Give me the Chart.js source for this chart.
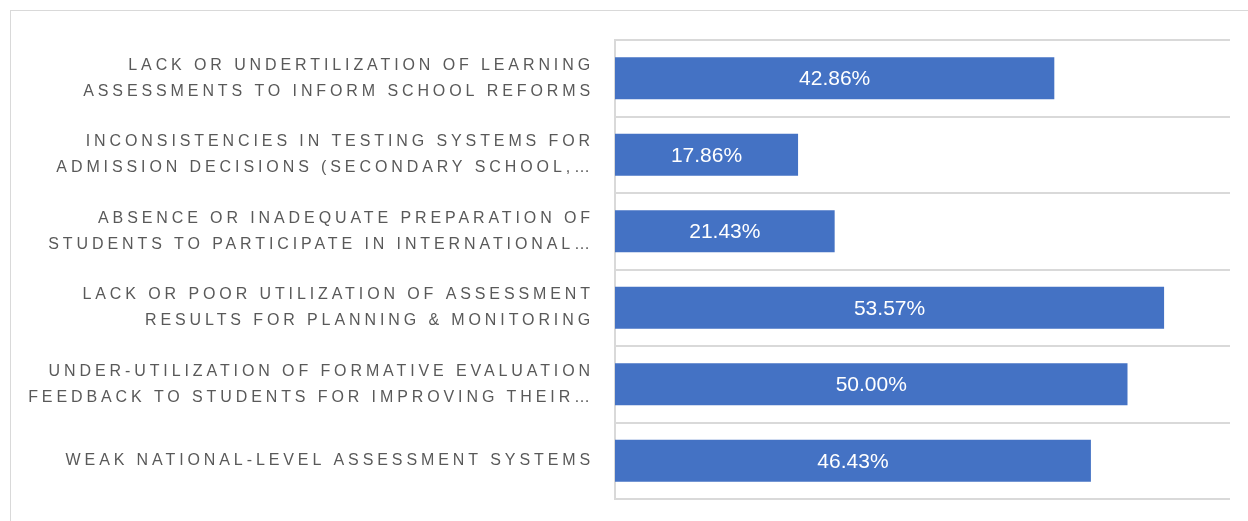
<!DOCTYPE html>
<html>
<head>
<meta charset="utf-8">
<script src="https://cdn.jsdelivr.net/npm/chart.js@4/dist/chart.umd.min.js"></script>
<style>
  html, body { margin: 0; padding: 0; background: #fff; overflow: hidden; }
  #frame { position: absolute; left: 10px; top: 10px; width: 1300px; height: 600px; border: 1px solid #d9d9d9; }
  #wrap { position: absolute; left: 0; top: 0; width: 1248px; height: 521px; }
</style>
</head>
<body>
<div id="frame"></div>
<div id="wrap"><canvas id="myChart"></canvas></div>
<script>
// kategoriler (grafikte görünen haliyle, kesik olanlar dahil)
const categories = [
  ['LACK OR UNDERTILIZATION OF LEARNING', 'ASSESSMENTS TO INFORM SCHOOL REFORMS'],
  ['INCONSISTENCIES IN TESTING SYSTEMS FOR', 'ADMISSION DECISIONS (SECONDARY SCHOOL,…'],
  ['ABSENCE OR INADEQUATE PREPARATION OF', 'STUDENTS TO PARTICIPATE IN INTERNATIONAL…'],
  ['LACK OR POOR UTILIZATION OF ASSESSMENT', 'RESULTS FOR PLANNING & MONITORING'],
  ['UNDER-UTILIZATION OF FORMATIVE EVALUATION', 'FEEDBACK TO STUDENTS FOR IMPROVING THEIR…'],
  'WEAK NATIONAL-LEVEL ASSESSMENT SYSTEMS'
];
const values = [42.86, 17.86, 21.43, 53.57, 50.00, 46.43];
const xMin = 0;
const xMax = 60;

// etiketlerdeki harf aralığı
const spacingPlugin = {
  id: 'spacing',
  beforeLayout(chart) { chart.ctx.letterSpacing = '3.9px'; },
  beforeDraw(chart) { chart.ctx.letterSpacing = '3.9px'; }
};

// çubuk içindeki değer etiketleri
const valueLabels = {
  id: 'valueLabels',
  afterDatasetsDraw(chart) {
    const ctx = chart.ctx;
    ctx.save();
    ctx.letterSpacing = '0px';
    ctx.font = '21px "Liberation Sans", Arial, sans-serif';
    ctx.fillStyle = '#ffffff';
    ctx.textAlign = 'center';
    ctx.textBaseline = 'middle';
    chart.getDatasetMeta(0).data.forEach((bar, i) => {
      const cx = (bar.x + bar.base) / 2;
      ctx.fillText(values[i].toFixed(2) + '%', cx, bar.y + 1);
    });
    ctx.restore();
  }
};

const ctx = document.getElementById('myChart').getContext('2d');
const myChart = new Chart(ctx, {
  type: 'bar',
  data: {
    labels: categories,
    datasets: [{
      data: values,
      backgroundColor: '#4472C4',
      barPercentage: 0.55,
      categoryPercentage: 1
    }]
  },
  plugins: [spacingPlugin, valueLabels],
  options: {
    indexAxis: 'y',
    responsive: true,
    maintainAspectRatio: false,
    animation: false,
    layout: { padding: { top: 40, bottom: 22, right: 18, left: 0 } },
    plugins: {
      legend: { display: false },
      tooltip: { enabled: false }
    },
    scales: {
      x: {
        display: false,
        min: xMin,
        max: xMax
      },
      y: {
        afterFit(scale) {
          scale.width = 615;
          scale.paddingTop = 0;
          scale.paddingBottom = 0;
        },
        grid: {
          color: '#d9d9d9',
          lineWidth: 2,
          drawTicks: false,
          offset: true
        },
        border: { display: true, color: '#d9d9d9', width: 2 },
        ticks: {
          autoSkip: false,
          padding: 21,
          color: '#595959',
          font: { family: '"Liberation Sans", Arial, sans-serif', size: 16, lineHeight: 1.62 }
        }
      }
    }
  }
});
</script>
</body>
</html>
